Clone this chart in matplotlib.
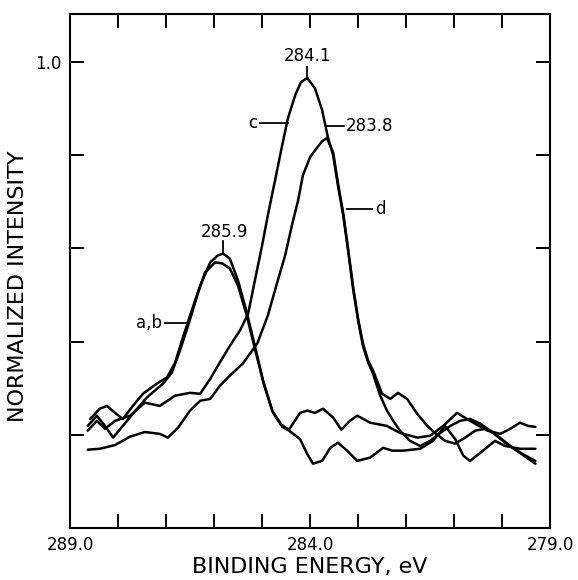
import matplotlib
matplotlib.use("Agg")
import matplotlib.pyplot as plt

# binding energy (eV) / normalized intensity
energy_a = [288.58, 288.38, 288.23, 288.06, 287.90, 287.69, 287.48, 287.19, 286.98, 286.81,
            286.67, 286.50, 286.29, 286.08, 285.92, 285.81, 285.67, 285.50, 285.33, 285.15,
            284.98, 284.79, 284.60, 284.44, 284.21, 284.06, 283.90, 283.73, 283.52, 283.35,
            283.17, 283.02, 282.75, 282.40, 282.13, 281.77, 281.50, 281.23, 280.94, 280.67,
            280.31, 280.04, 279.83, 279.63, 279.46, 279.31]
int_a = [0.234, 0.256, 0.262, 0.247, 0.234, 0.262, 0.288, 0.310, 0.323, 0.355,
         0.402, 0.456, 0.520, 0.570, 0.585, 0.589, 0.578, 0.531, 0.467, 0.391,
         0.316, 0.252, 0.222, 0.211, 0.247, 0.252, 0.247, 0.256, 0.237, 0.211,
         0.230, 0.241, 0.226, 0.219, 0.204, 0.194, 0.198, 0.219, 0.247, 0.230,
         0.209, 0.202, 0.213, 0.226, 0.219, 0.217]

energy_b = [288.63, 288.44, 288.27, 288.10, 287.90, 287.69, 287.40, 287.06, 286.88, 286.71,
            286.54, 286.35, 286.19, 285.98, 285.83, 285.67, 285.50, 285.33, 285.15, 284.96,
            284.77, 284.58, 284.44, 284.21, 284.06, 283.94, 283.75, 283.58, 283.42, 283.23,
            283.02, 282.75, 282.48, 282.29, 282.06, 281.71, 281.44, 281.19, 280.98, 280.81,
            280.67, 280.46, 280.15, 279.94, 279.63, 279.31]
int_b = [0.219, 0.241, 0.219, 0.194, 0.219, 0.245, 0.280, 0.310, 0.333, 0.381,
         0.434, 0.499, 0.548, 0.570, 0.568, 0.557, 0.520, 0.460, 0.385, 0.308,
         0.247, 0.217, 0.209, 0.191, 0.159, 0.138, 0.144, 0.172, 0.183, 0.166,
         0.144, 0.151, 0.172, 0.166, 0.166, 0.170, 0.187, 0.219, 0.191, 0.155,
         0.144, 0.161, 0.187, 0.176, 0.170, 0.170]

energy_c = [288.63, 288.44, 288.27, 288.06, 287.75, 287.44, 287.13, 286.81, 286.50, 286.29,
            286.08, 285.88, 285.67, 285.46, 285.29, 285.15, 285.00, 284.88, 284.73, 284.58,
            284.46, 284.31, 284.19, 284.06, 283.90, 283.75, 283.63, 283.52, 283.42, 283.31,
            283.21, 283.10, 283.00, 282.90, 282.79, 282.69, 282.54, 282.40, 282.27, 282.13,
            281.92, 281.71, 281.50, 281.29, 281.08, 280.88, 280.67, 280.46, 280.25, 279.94,
            279.63, 279.31]
int_c = [0.209, 0.230, 0.213, 0.230, 0.241, 0.269, 0.262, 0.284, 0.290, 0.288,
         0.320, 0.355, 0.391, 0.424, 0.460, 0.531, 0.606, 0.671, 0.746, 0.822,
         0.880, 0.929, 0.957, 0.966, 0.944, 0.897, 0.839, 0.800, 0.735, 0.671,
         0.596, 0.510, 0.445, 0.391, 0.355, 0.331, 0.284, 0.252, 0.230, 0.209,
         0.187, 0.176, 0.187, 0.204, 0.219, 0.230, 0.234, 0.224, 0.209, 0.183,
         0.161, 0.138]

energy_d = [288.63, 288.38, 288.06, 287.75, 287.44, 287.13, 286.96, 286.75, 286.50, 286.29,
            286.08, 285.88, 285.67, 285.40, 285.10, 284.88, 284.69, 284.52, 284.38, 284.25,
            284.15, 284.00, 283.85, 283.75, 283.65, 283.52, 283.42, 283.31, 283.21, 283.10,
            283.00, 282.90, 282.79, 282.69, 282.50, 282.33, 282.17, 281.98, 281.77, 281.56,
            281.40, 281.19, 280.98, 280.77, 280.56, 280.35, 280.15, 279.83, 279.58, 279.31]
int_d = [0.168, 0.170, 0.178, 0.196, 0.206, 0.202, 0.194, 0.215, 0.252, 0.273,
         0.277, 0.305, 0.327, 0.353, 0.396, 0.456, 0.525, 0.585, 0.649, 0.703,
         0.757, 0.796, 0.817, 0.830, 0.837, 0.806, 0.740, 0.675, 0.600, 0.514,
         0.449, 0.396, 0.359, 0.338, 0.288, 0.277, 0.290, 0.277, 0.245, 0.219,
         0.204, 0.187, 0.181, 0.194, 0.209, 0.213, 0.202, 0.176, 0.159, 0.144]

# peak labels: text, text position, leader line (x0, y0, x1, y1)
peak_labels = ["284.1", "283.8", "285.9"]
peak_text_pos = [(284.06, 1.012), (283.25, 0.862), (285.78, 0.636)]
peak_leaders = [(284.06, 0.990, 284.06, 0.970), (283.65, 0.862, 283.29, 0.862),
                (285.81, 0.615, 285.81, 0.590)]

# curve labels
curve_labels = ["c", "d", "a,b"]
curve_text_pos = [(285.10, 0.869), (282.64, 0.684), (287.08, 0.441)]
curve_leaders = [(285.04, 0.869, 284.46, 0.869), (283.23, 0.684, 282.71, 0.684),
                 (287.02, 0.441, 286.52, 0.441)]

fig = plt.figure(figsize=(5.78, 5.80), dpi=100)
ax = fig.add_axes([0.121, 0.0897, 0.831, 0.886])

for e, i in [(energy_a, int_a), (energy_b, int_b), (energy_c, int_c), (energy_d, int_d)]:
    ax.plot(e, i, color="black", lw=1.8, solid_joinstyle="round", solid_capstyle="round")

for lab, (tx, ty), (x0, y0, x1, y1) in zip(peak_labels, peak_text_pos, peak_leaders):
    ax.plot([x0, x1], [y0, y1], color="black", lw=1.3)
    ha = "left" if lab == "283.8" else "center"
    ax.text(tx, ty, lab, ha=ha, va="center", fontsize=12)

for lab, (tx, ty), (x0, y0, x1, y1) in zip(curve_labels, curve_text_pos, curve_leaders):
    ax.plot([x0, x1], [y0, y1], color="black", lw=1.3)
    ha = "left" if lab == "d" else "right"
    ax.text(tx, ty, lab, ha=ha, va="center", fontsize=12)

ax.set_xlim(289.0, 279.0)
ax.set_ylim(0, 1.103)
ax.set_xticks([289, 288, 287, 286, 285, 284, 283, 282, 281, 280, 279])
ax.set_xticklabels(["289.0", "", "", "", "", "284.0", "", "", "", "", "279.0"])
ax.set_yticks([0.2, 0.4, 0.6, 0.8, 1.0])
ax.set_yticklabels(["", "", "", "", "1.0"])
ax.tick_params(direction="in", length=10, width=1.4, top=True, right=True,
               labelsize=12, pad=6)
for s in ax.spines.values():
    s.set_linewidth(1.5)

ax.set_xlabel("BINDING ENERGY, eV", fontsize=16, labelpad=2)
ax.set_ylabel("NORMALIZED INTENSITY", fontsize=16)
ax.yaxis.set_label_coords(-0.088, 0.47)

fig.savefig("out.png", dpi=100)
